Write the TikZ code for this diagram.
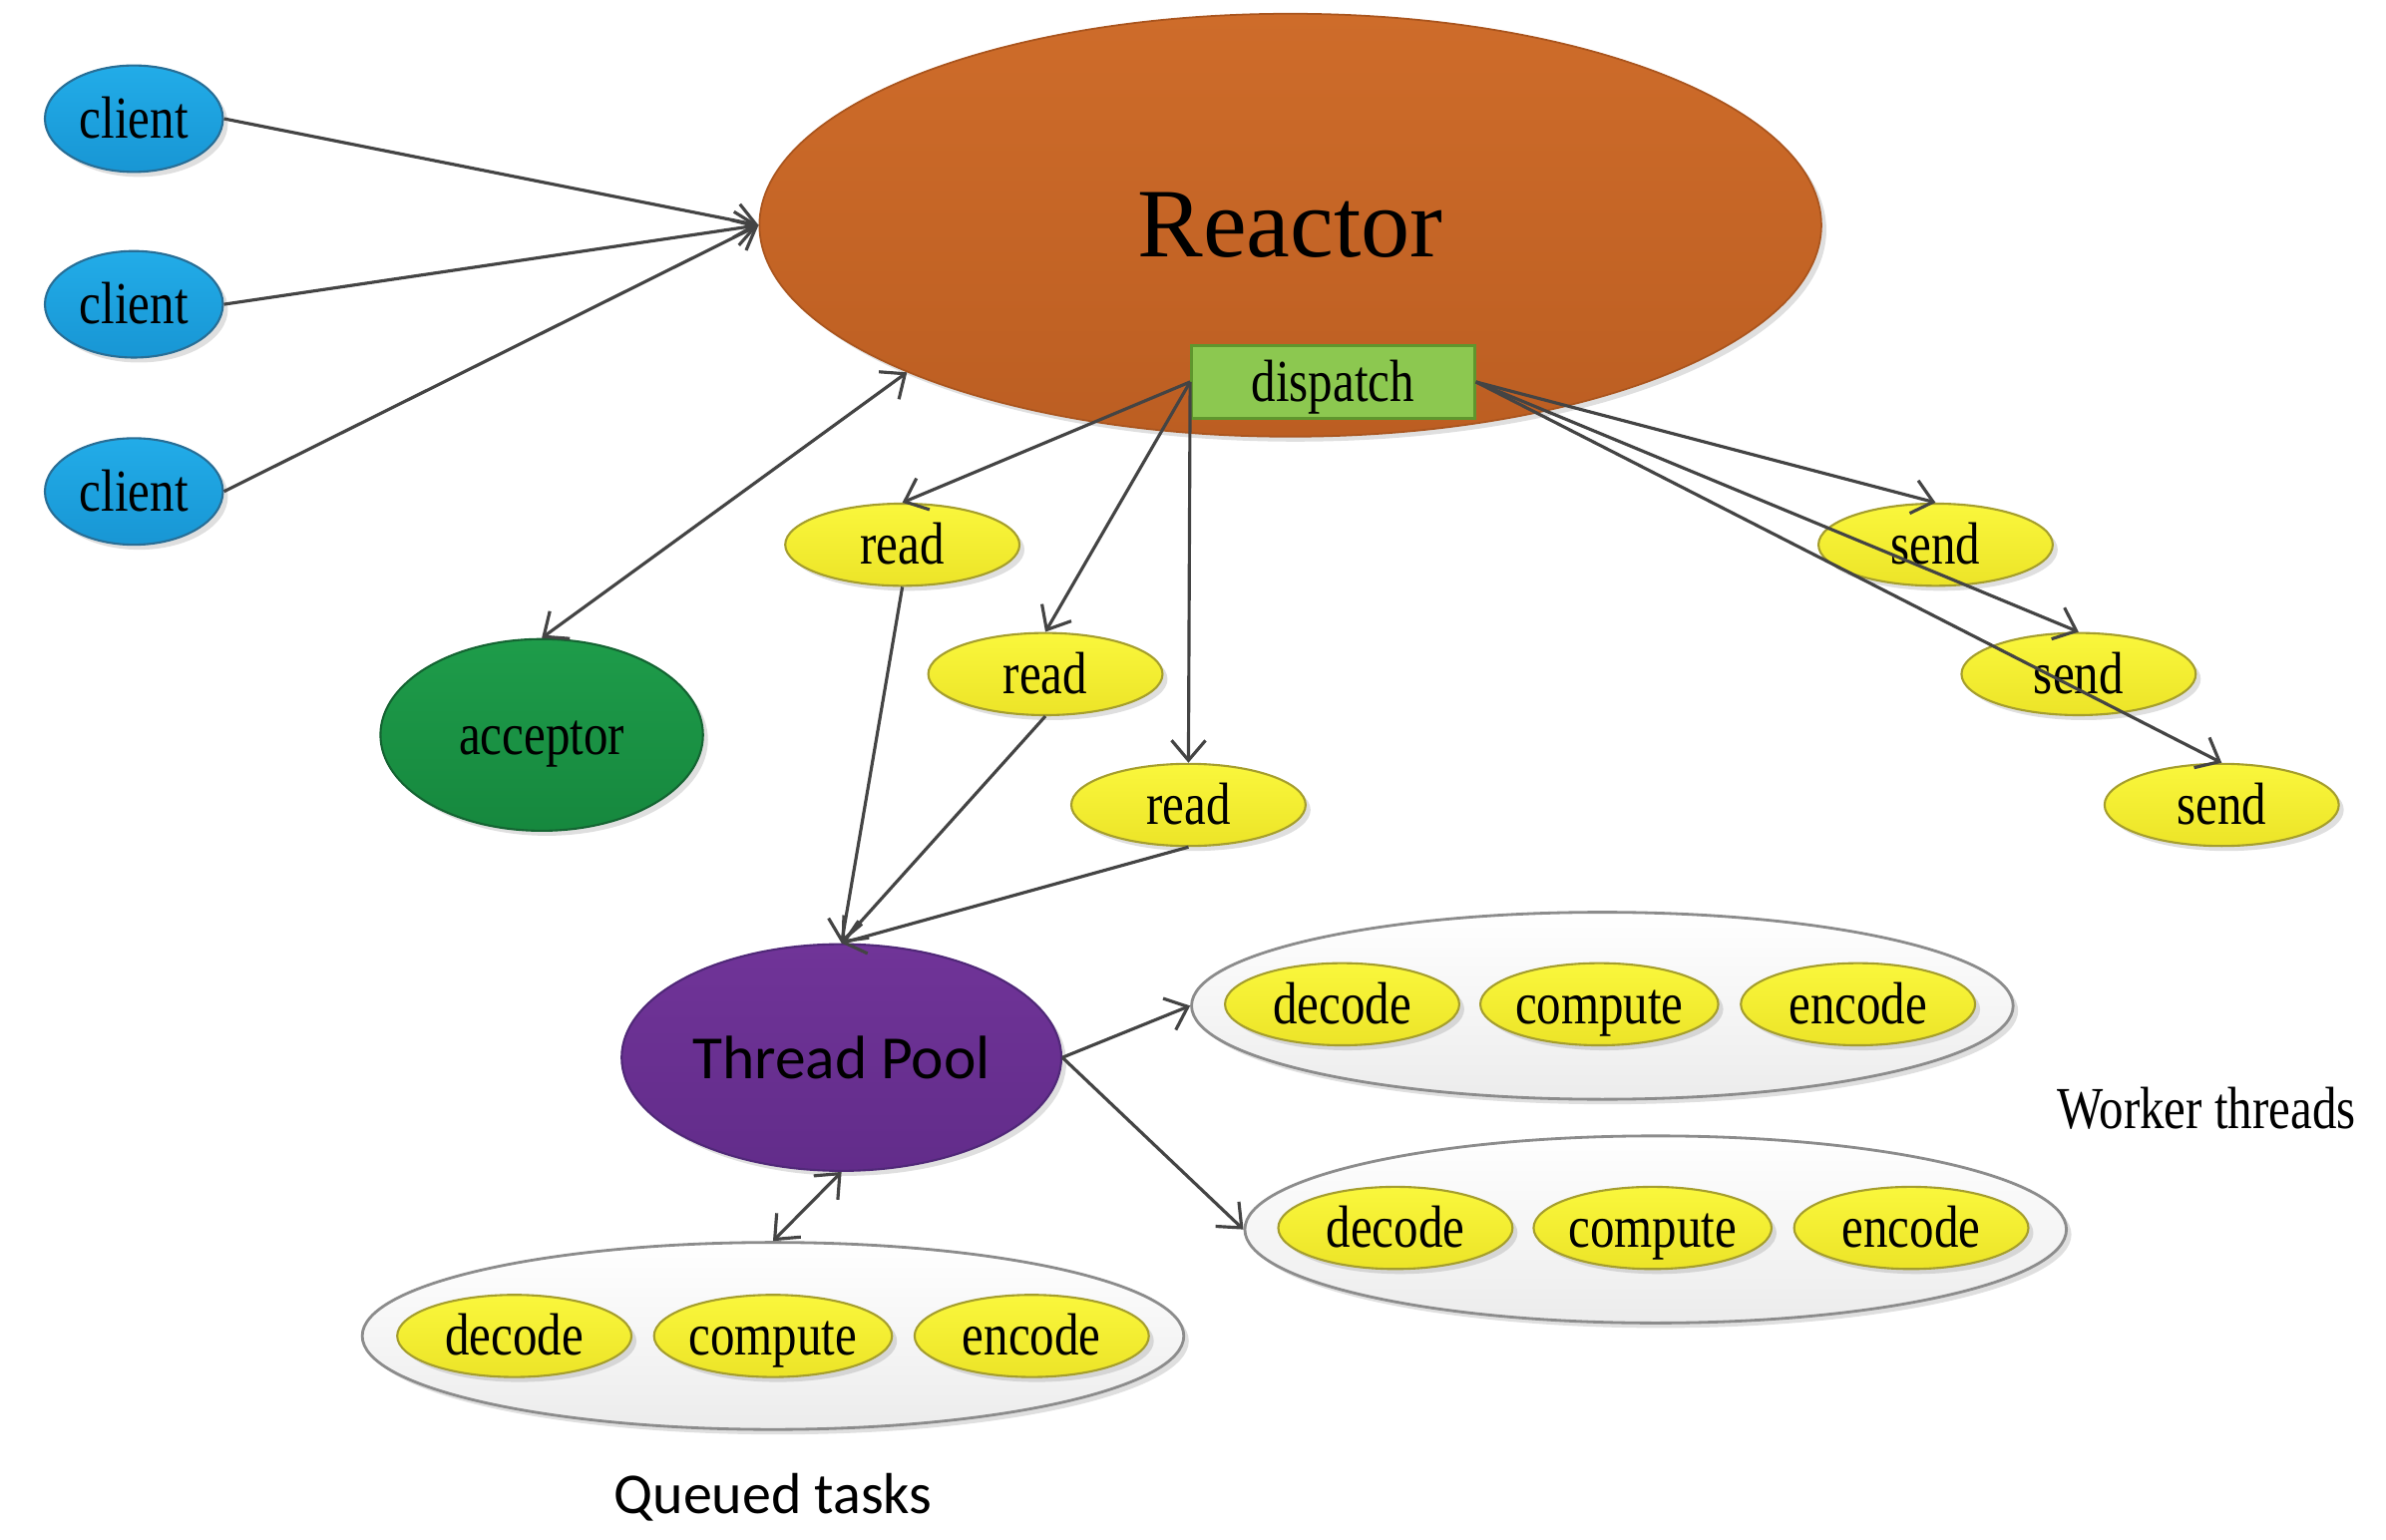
\documentclass[tikz,border=0pt]{standalone}
\usepackage{fontspec}
\setmainfont{Liberation Serif}
\newfontfamily\lblfont[FakeStretch=0.82]{Liberation Serif}
\newfontfamily\sflblfont{Carlito}
\usetikzlibrary{shapes.geometric,arrows.meta,shadows}
\definecolor{clienttop}{RGB}{34,172,232}
\definecolor{clientbot}{RGB}{24,150,212}
\definecolor{clientdraw}{RGB}{40,110,150}
\definecolor{reacttop}{RGB}{206,108,42}
\definecolor{reactbot}{RGB}{188,94,34}
\definecolor{reactdraw}{RGB}{170,85,30}
\definecolor{dispfill}{RGB}{140,200,80}
\definecolor{dispdraw}{RGB}{95,150,45}
\definecolor{acctop}{RGB}{30,156,74}
\definecolor{accbot}{RGB}{22,136,62}
\definecolor{accdraw}{RGB}{20,100,50}
\definecolor{yeltop}{RGB}{250,247,60}
\definecolor{yelbot}{RGB}{236,228,40}
\definecolor{yeldraw}{RGB}{165,158,45}
\definecolor{tptop}{RGB}{112,52,152}
\definecolor{tpbot}{RGB}{98,44,138}
\definecolor{tpdraw}{RGB}{80,40,120}
\definecolor{contbot}{RGB}{236,236,236}
\definecolor{contdraw}{RGB}{140,140,140}
\definecolor{arrowc}{RGB}{68,68,68}
\begin{document}
\begin{tikzpicture}[x=0.015255cm,y=-0.015255cm,
  lbl/.style={font=\lblfont\fontsize{17}{18}\selectfont,text height=13pt,text depth=2pt},
  shad/.style={drop shadow={opacity=0.25,shadow xshift=0.5mm,shadow yshift=-0.5mm}},
  base/.style={ellipse,inner sep=0pt,shad,lbl,line width=0.6pt},
  clientst/.style={base,top color=clienttop,bottom color=clientbot,draw=clientdraw,minimum width=1.785cm,minimum height=1.068cm},
  reactorst/.style={ellipse,inner sep=0pt,shad,top color=reacttop,bottom color=reactbot,draw=reactdraw,line width=0.5pt,minimum width=10.648cm,minimum height=4.241cm,font=\fontsize{28}{30}\selectfont},
  dispst/.style={rectangle,inner sep=0pt,fill=dispfill,draw=dispdraw,line width=0.8pt,minimum width=2.837cm,minimum height=0.732cm,lbl},
  accst/.style={base,top color=acctop,bottom color=accbot,draw=accdraw,minimum width=3.234cm,minimum height=1.922cm},
  yelst/.style={base,top color=yeltop,bottom color=yelbot,draw=yeldraw,minimum width=2.349cm,minimum height=0.824cm},
  tpst/.style={ellipse,inner sep=0pt,shad,top color=tptop,bottom color=tpbot,draw=tpdraw,line width=0.6pt,minimum width=4.409cm,minimum height=2.273cm,font=\sflblfont\fontsize{17.5}{19}\selectfont},
  contst/.style={ellipse,inner sep=0pt,shad,top color=white,bottom color=contbot,draw=contdraw,line width=0.8pt,minimum width=8.238cm,minimum height=1.876cm},
  conn/.style={draw=arrowc,line width=0.9pt,-{Straight Barb[length=2mm,width=3.4mm]}},
  biconn/.style={draw=arrowc,line width=0.9pt,{Straight Barb[length=2mm,width=3.4mm]}-{Straight Barb[length=2mm,width=3.4mm]}},
  caption/.style={lbl}
]
\useasboundingbox (0,0) rectangle (1568,1012);

% Reactor and dispatch
\node[reactorst] (reactor) at (848,148) {Reactor};
\node[dispst] (dispatch) at (876,251) {dispatch};

% clients
\node[clientst] (c1) at (88,78) {client};
\node[clientst] (c2) at (88,200) {client};
\node[clientst] (c3) at (88,323) {client};

% acceptor
\node[accst] (acceptor) at (356,483) {acceptor};

% reads
\node[yelst] (r1) at (593,358) {read};
\node[yelst] (r2) at (687,443) {read};
\node[yelst] (r3) at (781,529) {read};

% sends
\node[yelst] (s1) at (1272,358) {send};
\node[yelst] (s2) at (1366,443) {send};
\node[yelst] (s3) at (1460,529) {send};

% thread pool
\node[tpst] (tp) at (553,695) {Thread Pool};

% worker containers
\node[contst] (w1) at (1053,661) {};
\node[yelst] (w1a) at (882,660) {decode};
\node[yelst] (w1b) at (1051,660) {compute};
\node[yelst] (w1c) at (1221,660) {encode};

\node[contst] (w2) at (1088,808) {};
\node[yelst] (w2a) at (917,807) {decode};
\node[yelst] (w2b) at (1086,807) {compute};
\node[yelst] (w2c) at (1256,807) {encode};

% queued container
\node[contst] (q) at (508,878) {};
\node[yelst] (qa) at (338,878) {decode};
\node[yelst] (qb) at (508,878) {compute};
\node[yelst] (qc) at (678,878) {encode};

% captions
\node[caption] (wlabel) at (1450,729) {Worker threads};
\node[font=\sflblfont\fontsize{16.5}{18}\selectfont] (qlabel) at (508,984) {Queued tasks};

% connectors
\draw[conn] (c1.east) -- (reactor.west);
\draw[conn] (c2.east) -- (reactor.west);
\draw[conn] (c3.east) -- (reactor.west);
\draw[biconn] (acceptor.north) -- (reactor.201);

\draw[conn] (dispatch.west) -- (r1.north);
\draw[conn] (dispatch.west) -- (r2.north);
\draw[conn] (dispatch.west) -- (r3.north);

\draw[conn] (dispatch.east) -- (s1.north);
\draw[conn] (dispatch.east) -- (s2.north);
\draw[conn] (dispatch.east) -- (s3.north);

\draw[conn] (r1.south) -- (tp.north);
\draw[conn] (r2.south) -- (tp.north);
\draw[conn] (r3.south) -- (tp.north);

\draw[conn] (tp.east) -- (w1.west);
\draw[conn] (tp.east) -- (w2.west);
\draw[biconn] (tp.south) -- (q.north);
\end{tikzpicture}
\end{document}
